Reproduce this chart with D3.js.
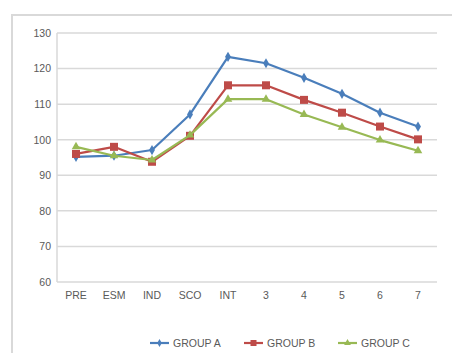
<!DOCTYPE html>
<html><head><meta charset="utf-8">
<script src="https://cdn.jsdelivr.net/npm/d3@7/dist/d3.min.js"></script>
<style>body{margin:0;background:#fff}svg{display:block}</style>
</head><body><svg id="c" width="452" height="353"></svg>
<script>
const categories = ["PRE","ESM","IND","SCO","INT","3","4","5","6","7"];
const groupA = [95.2,95.5,97.1,107.1,123.3,121.5,117.4,112.9,107.6,103.7];
const groupB = [96.0,98.0,93.8,101.1,115.3,115.3,111.2,107.6,103.7,100.1];
const groupC = [98.0,95.5,94.3,101.3,111.4,111.4,107.1,103.5,99.9,96.9];
const yTicks = [60,70,80,90,100,110,120,130];
const seriesNames = ["GROUP A","GROUP B","GROUP C"];

const series = [
  {name: seriesNames[0], values: groupA, color: "#4a7ebb", shape: "diamond"},
  {name: seriesNames[1], values: groupB, color: "#be4b48", shape: "square"},
  {name: seriesNames[2], values: groupC, color: "#98b954", shape: "triangle"}
];

const svg = d3.select("#c");
const font = "'Liberation Sans', Arial, sans-serif";

// outer frame
svg.append("rect").attr("x",12).attr("y",15).attr("width",460).attr("height",360)
  .attr("fill","none").attr("stroke","#d9d9d9").attr("stroke-width",2);

const L = 57, R = 437, T = 33, B = 282;
const x = d3.scaleBand().domain(categories).range([L,R]);
const y = d3.scaleLinear().domain([60,130]).range([B,T]);

// gridlines
svg.append("g").selectAll("line").data(yTicks).join("line")
  .attr("x1",L).attr("x2",R).attr("y1",d=>y(d)).attr("y2",d=>y(d))
  .attr("stroke","#d9d9d9").attr("stroke-width",1.5);
// y axis line
svg.append("line").attr("x1",L).attr("x2",L).attr("y1",T).attr("y2",B)
  .attr("stroke","#d9d9d9").attr("stroke-width",1.5);

// y labels
const yAxis = d3.axisLeft(y).tickValues(yTicks).tickSize(0).tickPadding(6);
const gy = svg.append("g").attr("transform",`translate(${L},0)`).call(yAxis);
gy.select(".domain").remove();
gy.selectAll("text").attr("font-family",font).attr("font-size",10.5).attr("fill","#595959");

// x labels
const xAxis = d3.axisBottom(x).tickSize(0).tickPadding(10);
const gx = svg.append("g").attr("transform",`translate(0,${B})`).call(xAxis);
gx.select(".domain").remove();
gx.selectAll("text").attr("font-family",font).attr("font-size",10.5).attr("fill","#595959");

const cx = c => x(c) + x.bandwidth()/2;
const line = d3.line().x((d,i)=>cx(categories[i])).y(d=>y(d));

function marker(g, shape, color, px, py) {
  if (shape === "diamond") {
    g.append("path").attr("d",d3.symbol(d3.symbolDiamond, 30)()).attr("transform",`translate(${px},${py})`).attr("fill",color);
  } else if (shape === "square") {
    g.append("rect").attr("x",px-4).attr("y",py-4).attr("width",8).attr("height",8).attr("fill",color);
  } else {
    g.append("path").attr("d",d3.symbol(d3.symbolTriangle, 32)()).attr("transform",`translate(${px},${py})`).attr("fill",color);
  }
}

series.forEach(s => {
  const g = svg.append("g");
  g.append("path").datum(s.values).attr("d",line).attr("fill","none")
    .attr("stroke",s.color).attr("stroke-width",2.2).attr("stroke-linejoin","round");
  s.values.forEach((v,i) => marker(g, s.shape, s.color, cx(categories[i]), y(v)));
});

// legend
const legX = [150, 244, 338];
series.forEach((s,i) => {
  const g = svg.append("g");
  const ly = 343;
  g.append("line").attr("x1",legX[i]).attr("x2",legX[i]+19).attr("y1",ly).attr("y2",ly)
    .attr("stroke",s.color).attr("stroke-width",2.2);
  if (s.shape === "diamond") {
    g.append("path").attr("d",d3.symbol(d3.symbolDiamond, 18)()).attr("transform",`translate(${legX[i]+9.5},${ly})`).attr("fill",s.color);
  } else if (s.shape === "square") {
    g.append("rect").attr("x",legX[i]+6.5).attr("y",ly-3).attr("width",6).attr("height",6).attr("fill",s.color);
  } else {
    g.append("path").attr("d",d3.symbol(d3.symbolTriangle, 20)()).attr("transform",`translate(${legX[i]+9.5},${ly})`).attr("fill",s.color);
  }
  g.append("text").attr("x",legX[i]+23).attr("y",ly+4).text(s.name)
    .attr("font-family",font).attr("font-size",10.5).attr("fill","#595959");
});
</script></body></html>
